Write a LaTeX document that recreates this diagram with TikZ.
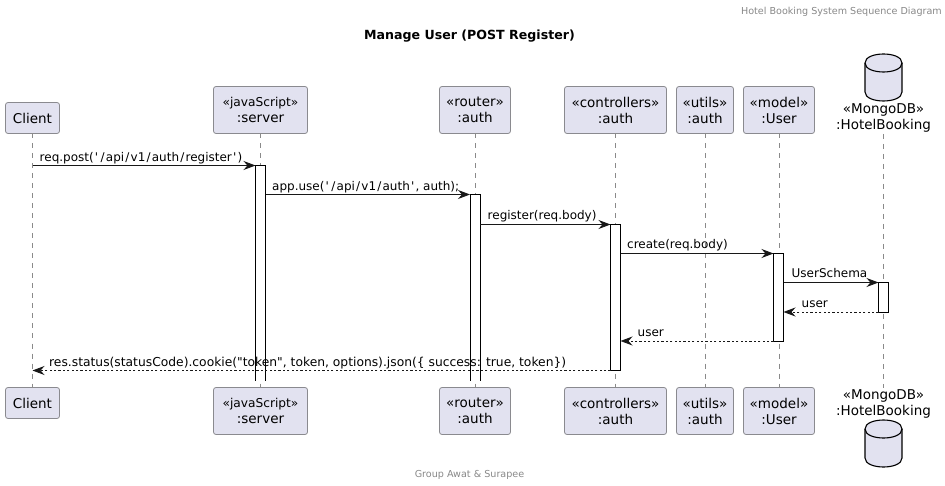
\documentclass[tikz,border=0pt]{standalone}
\usepackage{fontspec}
\newfontfamily\diagramfont{DejaVu Sans}
\usetikzlibrary{arrows.meta}
\definecolor{partfill}{HTML}{E2E2F0}
\definecolor{partline}{HTML}{8A8A8F}
\definecolor{lifeline}{HTML}{8A8A8A}
\definecolor{dark}{HTML}{181818}
\definecolor{captiongrey}{HTML}{888888}
\newcommand{\wq}{\kern1.2pt'\kern1.2pt}
\newcommand{\ws}{\kern1.2pt/\kern1.2pt}
\newcommand{\jsname}{{\fontsize{12.2}{16}\selectfont «javaScript»}}
\tikzset{
  x=1pt,y=-1pt,
  every node/.style={font=\diagramfont},
  part/.style={draw=partline,fill=partfill,rounded corners=2.5pt,line width=0.8pt,inner sep=0pt,outer sep=0pt,align=center,font=\diagramfont\fontsize{13.5}{16}\selectfont,text=black},
  dbtext/.style={inner sep=0pt,align=center,font=\diagramfont\fontsize{13.5}{16.5}\selectfont,text=black},
  life/.style={draw=lifeline,line width=0.7pt,dash pattern=on 5pt off 5pt},
  actbar/.style={draw=black,fill=white,line width=0.9pt,inner sep=0pt,outer sep=0pt,minimum width=10pt,anchor=north west},
  openbar/.style={fill=white,inner sep=0pt,outer sep=0pt,minimum width=10pt,anchor=north west},
  barline/.style={draw=black,line width=0.9pt},
  msg/.style={draw=dark,line width=0.9pt,-{Stealth[length=12pt,width=9pt,inset=4pt]}},
  ret/.style={msg,dash pattern=on 2.2pt off 2.2pt},
  msglabel/.style={inner sep=0pt,anchor=base west,font=\diagramfont\fontsize{12}{14}\selectfont,text=black},
  captext/.style={inner sep=0pt,font=\diagramfont\fontsize{9.6}{12}\selectfont,text=captiongrey},
  dbshape/.style={draw=black,fill=partfill,line width=1.1pt}
}
\newcommand{\dbcyl}[2]{% left x, top y
  \draw[dbshape] (#1,#2+9) .. controls (#1,#2-3) and (#1+37,#2-3) .. (#1+37,#2+9)
    -- (#1+37,#2+38) .. controls (#1+37,#2+50) and (#1,#2+50) .. (#1,#2+38) -- cycle;
  \draw[dbshape,fill=none] (#1,#2+9) .. controls (#1,#2+21) and (#1+37,#2+21) .. (#1+37,#2+9);
}
\begin{document}
\begin{tikzpicture}
\useasboundingbox (0,0) rectangle (945,486);
\node[captext,anchor=base east] (hdr) at (942,14.5) {Hotel Booking System Sequence Diagram};
\node[inner sep=0pt,font=\diagramfont\bfseries\fontsize{12.6}{16}\selectfont] (ttl) at (469.5,36.5) {Manage User (POST Register)};
\node[captext,anchor=base] (ftr) at (469.5,477) {Group Awat \& Surapee};

% top participants
\node[part,minimum width=54pt,minimum height=31pt] (clientT) at (32.5,118) {Client};
\node[part,minimum width=94pt,minimum height=47pt] (serverT) at (260.5,110) {\jsname\\:server};
\node[part,minimum width=71pt,minimum height=47pt] (routerT) at (475,110) {«router»\\:auth};
\node[part,minimum width=102pt,minimum height=47pt] (ctrlT) at (615.5,110) {«controllers»\\:auth};
\node[part,minimum width=57pt,minimum height=47pt] (utilsT) at (705,110) {«utils»\\:auth};
\node[part,minimum width=71pt,minimum height=47pt] (modelT) at (779,110) {«model»\\:User};
\coordinate (dbT) at (883.5,134);
\coordinate (dbB) at (883.5,387.5);
\dbcyl{865}{54}
\node[dbtext] (dbTl) at (883.5,118) {«MongoDB»\\:HotelBooking};

% bottom participants
\node[part,minimum width=54pt,minimum height=31pt] (clientB) at (32.5,403) {Client};
\node[part,minimum width=94pt,minimum height=47pt] (serverB) at (260.5,411) {\jsname\\:server};
\node[part,minimum width=71pt,minimum height=47pt] (routerB) at (475,411) {«router»\\:auth};
\node[part,minimum width=102pt,minimum height=47pt] (ctrlB) at (615.5,411) {«controllers»\\:auth};
\node[part,minimum width=57pt,minimum height=47pt] (utilsB) at (705,411) {«utils»\\:auth};
\node[part,minimum width=71pt,minimum height=47pt] (modelB) at (779,411) {«model»\\:User};
\node[dbtext] (dbBl) at (883.5,404) {«MongoDB»\\:HotelBooking};
\dbcyl{865}{420}

% lifelines
\draw[life] (clientT.south) -- (clientB.north);
\draw[life] (serverT.south) -- (serverB.north);
\draw[life] (routerT.south) -- (routerB.north);
\draw[life] (ctrlT.south) -- (ctrlB.north);
\draw[life] (utilsT.south) -- (utilsB.north);
\draw[life] (modelT.south) -- (modelB.north);
\draw[life] (dbT) -- (dbB);

% activation bars
\node[openbar,minimum height=215pt] (aServer) at (255.5,165.5) {};
\draw[barline] (aServer.south west) -- (aServer.north west) -- (aServer.north east) -- (aServer.south east);
\node[openbar,minimum height=186pt] (aRouter) at (470,194.5) {};
\draw[barline] (aRouter.south west) -- (aRouter.north west) -- (aRouter.north east) -- (aRouter.south east);
\node[actbar,minimum height=146pt] (aCtrl) at (610.5,224.5) {};
\node[actbar,minimum height=87.5pt] (aModel) at (773.5,253.5) {};
\node[actbar,minimum height=29.5pt] (aDb) at (878.5,282.5) {};

% free end of the first and last messages
\coordinate (c1) at (clientT.south |- aServer.north);
\coordinate (c8) at (clientT.south |- aCtrl.south);

% messages
\draw[msg] (c1) -- (aServer.north west);
\draw[msg] (aServer.east |- aRouter.north) -- (aRouter.north west);
\draw[msg] (aRouter.east |- aCtrl.north) -- (aCtrl.north west);
\draw[msg] (aCtrl.east |- aModel.north) -- (aModel.north west);
\draw[msg] (aModel.east |- aDb.north) -- (aDb.north west);
\draw[ret] (aDb.south west) -- (aDb.south west -| aModel.east);
\draw[ret] (aModel.south west) -- (aModel.south west -| aCtrl.east);
\draw[ret] (aCtrl.south west) -- (c8);

% labels
\node[msglabel] (l1) at (39.5,161.5) {req.post(\wq\ws api\ws v1\ws auth\ws register\wq)};
\node[msglabel] (l2) at (272,190.5) {app.use(\wq\ws api\ws v1\ws auth\wq, auth);};
\node[msglabel] (l3) at (487.5,220) {register(req.body)};
\node[msglabel] (l4) at (627,249) {create(req.body)};
\node[msglabel] (l5) at (791.5,278) {UserSchema};
\node[msglabel] (l6) at (801.5,307.5) {user};
\node[msglabel] (l7) at (637.5,337) {user};
\node[msglabel,font=\diagramfont\fontsize{12.3}{14}\selectfont] (l8) at (49,366) {res.status(statusCode).cookie("token", token, options).json(\{ success: true, token\})};
\end{tikzpicture}
\end{document}
